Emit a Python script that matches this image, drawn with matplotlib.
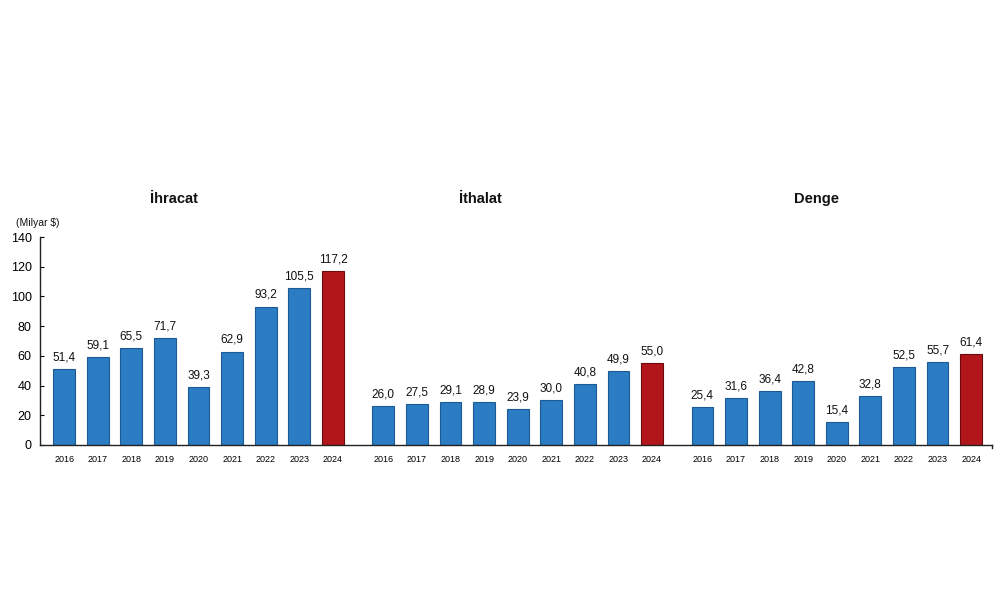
import matplotlib
matplotlib.use("Agg")
import matplotlib.pyplot as plt
import numpy as np
from matplotlib.transforms import blended_transform_factory

years = ["2016", "2017", "2018", "2019", "2020", "2021", "2022", "2023", "2024"]
groups = ["İhracat", "İthalat", "Denge"]
ihracat = [51.4, 59.1, 65.5, 71.7, 39.3, 62.9, 93.2, 105.5, 117.2]
ithalat = [26.0, 27.5, 29.1, 28.9, 23.9, 30.0, 40.8, 49.9, 55.0]
denge = [25.4, 31.6, 36.4, 42.8, 15.4, 32.8, 52.5, 55.7, 61.4]
series = [ihracat, ithalat, denge]
yticks = [0, 20, 40, 60, 80, 100, 120, 140]
unit_label = "(Milyar $)"

plt.rcParams['font.family'] = ['Liberation Sans', 'DejaVu Sans']

fig = plt.figure(figsize=(10, 5.93), dpi=100)
ax = fig.add_axes([0.04, 0.2496, 0.952, 0.3507])

blue = "#2b7cc2"
blue_edge = "#1d5a93"
red = "#b2161b"
red_edge = "#6a0c0e"

group_step = 9.5
xpos_all = []
xlab_all = []
for g, vals in enumerate(series):
    x = np.arange(len(years)) + g * group_step
    colors = [blue] * (len(years) - 1) + [red]
    edges = [blue_edge] * (len(years) - 1) + [red_edge]
    ax.bar(x, vals, width=0.65, color=colors, edgecolor=edges, linewidth=0.8, zorder=2)
    for xi, v in zip(x, vals):
        ax.annotate(f"{v:.1f}".replace(".", ","), (xi, v), xytext=(0, 4),
                    textcoords="offset points", ha="center", va="bottom",
                    fontsize=8.5, color="#111111")
    xpos_all.extend(x)
    xlab_all.extend(years)

ax.set_xlim(-0.72, 2 * group_step + 8 + 0.62)
ax.set_ylim(0, 140)
ax.set_yticks(yticks)
ax.set_yticklabels([str(t) for t in yticks], fontsize=9)
ax.set_xticks(xpos_all)
ax.set_xticklabels(xlab_all, fontsize=6.5)
ax.tick_params(axis='x', length=0, pad=7)
ax.tick_params(axis='y', direction='in', length=3, pad=6)
for s in ["top", "right"]:
    ax.spines[s].set_visible(False)
for s in ["left", "bottom"]:
    ax.spines[s].set_color("#222222")
    ax.spines[s].set_linewidth(1.0)

# small tick at right end of the x axis
ax.plot([1, 1], [0, -0.015], transform=ax.transAxes, color="#222222", lw=1.0, clip_on=False)

title_x = [3.28, 12.38, 22.4]
trans = blended_transform_factory(ax.transData, fig.transFigure)
for tx, name in zip(title_x, groups):
    ax.text(tx, 0.665, name, transform=trans,
            ha="center", va="center", fontsize=10.5, fontweight="bold", color="#111111")

fig.text(0.016, 0.624, unit_label, ha="left", va="center", fontsize=7.5, color="#111111")

fig.savefig("out.png", dpi=100)
